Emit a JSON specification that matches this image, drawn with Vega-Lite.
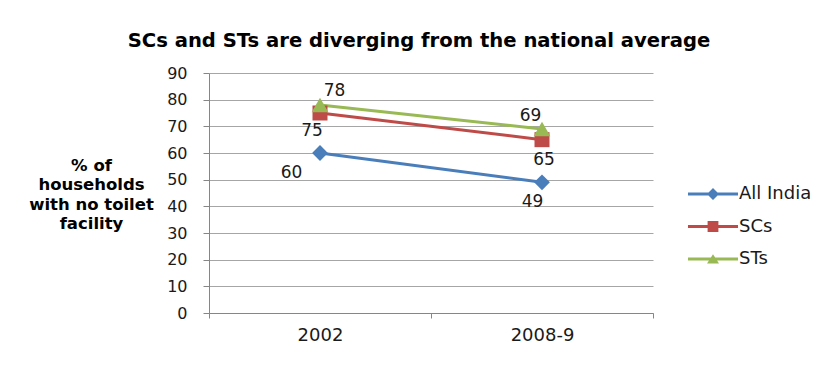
{
  "$schema": "https://vega.github.io/schema/vega-lite/v6.json",
  "width": 444,
  "height": 240,
  "autosize": {"type": "none"},
  "padding": {"left": 209, "top": 73, "right": 174, "bottom": 79},
  "background": "white",
  "title": {
    "text": "SCs and STs are diverging from the national average",
    "font": "DejaVu Sans",
    "fontSize": 19.6,
    "fontWeight": "bold",
    "color": "#000000",
    "anchor": "middle",
    "frame": "group",
    "dx": -12,
    "baseline": "alphabetic",
    "offset": -2
  },
  "data": {
    "values": [
      {"year": "2002", "series": "All India", "value": 60},
      {"year": "2008-9", "series": "All India", "value": 49},
      {"year": "2002", "series": "SCs", "value": 75},
      {"year": "2008-9", "series": "SCs", "value": 65},
      {"year": "2002", "series": "STs", "value": 78},
      {"year": "2008-9", "series": "STs", "value": 69}
    ]
  },
  "encoding": {
    "x": {
      "field": "year",
      "type": "nominal",
      "scale": {"type": "band", "paddingInner": 0, "paddingOuter": 0},
      "axis": {
        "title": null,
        "labelAngle": 0,
        "tickBand": "extent",
        "grid": false,
        "tickSize": 5,
        "labelPadding": 8,
        "labelFont": "DejaVu Sans",
        "labelFontSize": 18,
        "labelColor": "#1a1a1a",
        "domainColor": "#868686",
        "tickColor": "#868686"
      }
    },
    "y": {
      "field": "value",
      "type": "quantitative",
      "scale": {"domain": [0, 90], "nice": false},
      "axis": {
        "values": [0, 10, 20, 30, 40, 50, 60, 70, 80, 90],
        "grid": true,
        "gridColor": "#a6a6a6",
        "domainColor": "#868686",
        "tickColor": "#868686",
        "tickSize": 6,
        "labelPadding": 16,
        "labelFont": "DejaVu Sans",
        "labelFontSize": 16,
        "labelColor": "#1a1a1a",
        "title": ["% of", "households", "with no toilet", "facility"],
        "titleAngle": 0,
        "titleAlign": "center",
        "titleBaseline": "middle",
        "titleX": -118,
        "titleY": 92,
        "titleFont": "DejaVu Sans",
        "titleFontSize": 16.5,
        "titleFontWeight": "bold",
        "titleLineHeight": 19.5,
        "titleColor": "#000000"
      }
    }
  },
  "layer": [
    {
      "mark": {"type": "point", "filled": true, "size": 0, "opacity": 1},
      "encoding": {
        "color": {
          "field": "series",
          "type": "nominal",
          "scale": {"domain": ["All India", "SCs", "STs"], "range": ["#4a7ebb", "#be4b48", "#98b954"]},
          "legend": {
            "title": null,
            "orient": "none",
            "legendX": 495,
            "legendY": 112,
            "padding": 0,
            "symbolSize": 144,
            "symbolStrokeWidth": 0,
            "symbolOpacity": 1,
            "labelOffset": 17,
            "rowPadding": 14.5,
            "labelFont": "DejaVu Sans",
            "labelFontSize": 18,
            "labelColor": "#1a1a1a"
          }
        },
        "shape": {
          "field": "series",
          "type": "nominal",
          "scale": {
            "domain": ["All India", "SCs", "STs"],
            "range": [
              "M-4.17,-0.25H4.17V0.25H-4.17Z M-1,0L0,-1L1,0L0,1Z",
              "M-4.17,-0.25H4.17V0.25H-4.17Z M-0.9,-0.9H0.9V0.9H-0.9Z",
              "M-4.17,-0.25H4.17V0.25H-4.17Z M-1,0.75L0,-0.8L1,0.75Z"
            ]
          },
          "legend": {
            "title": null,
            "orient": "none",
            "legendX": 495,
            "legendY": 112,
            "padding": 0,
            "symbolSize": 144,
            "symbolStrokeWidth": 0,
            "symbolOpacity": 1,
            "labelOffset": 17,
            "rowPadding": 14.5,
            "labelFont": "DejaVu Sans",
            "labelFontSize": 18,
            "labelColor": "#1a1a1a"
          }
        }
      }
    },
    {
      "mark": {"type": "line", "strokeWidth": 3},
      "encoding": {"color": {"field": "series", "type": "nominal", "legend": null}}
    },
    {
      "transform": [{"filter": "datum.series === 'All India'"}],
      "mark": {"type": "point", "shape": "diamond", "filled": true, "size": 250, "opacity": 1},
      "encoding": {"color": {"field": "series", "type": "nominal", "legend": null}}
    },
    {
      "transform": [{"filter": "datum.series === 'SCs'"}],
      "mark": {"type": "point", "shape": "square", "filled": true, "size": 225, "opacity": 1},
      "encoding": {"color": {"field": "series", "type": "nominal", "legend": null}}
    },
    {
      "transform": [{"filter": "datum.series === 'STs'"}],
      "mark": {"type": "point", "shape": "triangle-up", "filled": true, "size": 280, "opacity": 1},
      "encoding": {"color": {"field": "series", "type": "nominal", "legend": null}}
    },
    {
      "transform": [{"filter": "datum.series === 'All India' && datum.year === '2002'"}],
      "mark": {"type": "text", "font": "DejaVu Sans", "fontSize": 17, "color": "#1a1a1a", "dx": -28.5, "dy": 19.5},
      "encoding": {"text": {"field": "value", "type": "quantitative"}}
    },
    {
      "transform": [{"filter": "datum.series === 'All India' && datum.year === '2008-9'"}],
      "mark": {"type": "text", "font": "DejaVu Sans", "fontSize": 17, "color": "#1a1a1a", "dx": -9.5, "dy": 20},
      "encoding": {"text": {"field": "value", "type": "quantitative"}}
    },
    {
      "transform": [{"filter": "datum.series === 'SCs' && datum.year === '2002'"}],
      "mark": {"type": "text", "font": "DejaVu Sans", "fontSize": 17, "color": "#1a1a1a", "dx": -8, "dy": 17.5},
      "encoding": {"text": {"field": "value", "type": "quantitative"}}
    },
    {
      "transform": [{"filter": "datum.series === 'SCs' && datum.year === '2008-9'"}],
      "mark": {"type": "text", "font": "DejaVu Sans", "fontSize": 17, "color": "#1a1a1a", "dx": 2, "dy": 20},
      "encoding": {"text": {"field": "value", "type": "quantitative"}}
    },
    {
      "transform": [{"filter": "datum.series === 'STs' && datum.year === '2002'"}],
      "mark": {"type": "text", "font": "DejaVu Sans", "fontSize": 17, "color": "#1a1a1a", "dx": 14.5, "dy": -14.5},
      "encoding": {"text": {"field": "value", "type": "quantitative"}}
    },
    {
      "transform": [{"filter": "datum.series === 'STs' && datum.year === '2008-9'"}],
      "mark": {"type": "text", "font": "DejaVu Sans", "fontSize": 17, "color": "#1a1a1a", "dx": -11.5, "dy": -13},
      "encoding": {"text": {"field": "value", "type": "quantitative"}}
    }
  ],
  "config": {"view": {"stroke": null}}
}
